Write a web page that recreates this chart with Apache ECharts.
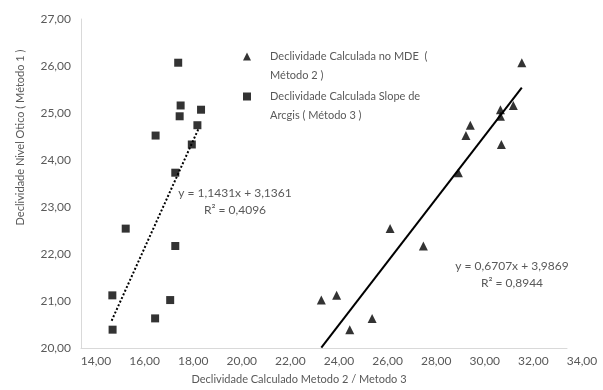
<!DOCTYPE html>
<html>
<head>
<meta charset="utf-8">
<script src="https://cdn.jsdelivr.net/npm/echarts@6/dist/echarts.min.js"></script>
<style>
  html, body { margin: 0; padding: 0; background: #fff; }
  #chart { width: 603px; height: 390px; }
</style>
</head>
<body>
<div id="chart"></div>
<script>
// Declividade Nivel Otico (Método 1) - shared y values
const metodo1 = [26.07, 25.16, 25.07, 24.93, 24.74, 24.52, 24.33, 23.73, 22.54, 22.17, 21.12, 21.02, 20.63, 20.39];
// Método 2 (MDE) x values
const metodo2 = [32.14, 31.79, 31.26, 31.26, 30.02, 29.84, 31.30, 29.53, 26.72, 28.09, 24.52, 23.89, 25.98, 25.06];
// Método 3 (Slope Arcgis) x values
const metodo3 = [18.00, 18.10, 18.94, 18.06, 18.79, 17.07, 18.56, 17.88, 15.84, 17.88, 15.29, 17.67, 17.05, 15.30];

// linhas de tendência (pontos extremos)
const trend2 = [[23.89, 20.01], [32.14, 25.54]];
const trend3 = [[15.26, 20.58], [18.84, 24.67]];

const name2 = 'Declividade Calculada no MDE  ( Método 2 )';
const name3 = 'Declividade Calculada Slope de Arcgis ( Método 3 )';
const legend2 = ['Declividade Calculada no MDE  (', 'Método 2 )'];
const legend3 = ['Declividade Calculada Slope de', 'Arcgis ( Método 3 )'];

const eq2 = ['y = 0,6707x + 3,9869', 'R² = 0,8944'];
const eq3 = ['y = 1,1431x + 3,1361', 'R² = 0,4096'];

const FONT = 'Lato';
const GRAY = '#595959';
const AXIS = '#d9d9d9';

const fmt = (v) => v.toFixed(2).replace('.', ',');
// linha vazia no topo para alinhar o ícone com a 1a linha do texto
const legendLabel = (lines) => '\n' + lines.map((l) => '     ' + l).join('\n');

const chart = echarts.init(document.getElementById('chart'));

const legendText = {
  color: GRAY,
  fontFamily: FONT,
  fontSize: 11,
  lineHeight: 19,
};

chart.setOption({
  animation: false,
  textStyle: { fontFamily: FONT },
  grid: { left: 81, right: 36, top: 19, bottom: 41 },
  legend: [
    {
      data: [{ name: name2, icon: 'triangle' }],
      left: 238,
      top: 23,
      itemWidth: 8,
      itemHeight: 8,
      textStyle: legendText,
      formatter: () => legendLabel(legend2),
    },
    {
      data: [{ name: name3, icon: 'rect' }],
      left: 238,
      top: 63,
      itemWidth: 8,
      itemHeight: 8,
      textStyle: legendText,
      formatter: () => legendLabel(legend3),
    },
  ],
  xAxis: {
    type: 'value',
    min: 14,
    max: 34,
    interval: 2,
    name: 'Declividade Calculado Metodo 2 / Metodo 3',
    nameLocation: 'middle',
    nameGap: 26,
    nameTextStyle: { color: GRAY, fontSize: 11, fontFamily: FONT, padding: [0, 50, 0, 0] },
    axisLine: { show: true, onZero: false, lineStyle: { color: AXIS } },
    axisTick: { show: false },
    splitLine: { show: false },
    axisLabel: {
      color: GRAY,
      fontSize: 12,
      fontFamily: FONT,
      margin: 7,
      padding: [0, 0, 0, 30],
      formatter: fmt,
    },
  },
  yAxis: {
    type: 'value',
    min: 20,
    max: 27,
    interval: 1,
    name: 'Declividade Nivel Otico ( Método 1 )',
    nameLocation: 'middle',
    nameGap: 55,
    nameTextStyle: { color: GRAY, fontSize: 11, fontFamily: FONT, padding: [0, 0, 0, 92] },
    axisLine: { show: true, onZero: false, lineStyle: { color: AXIS } },
    axisTick: { show: false },
    splitLine: { show: false },
    axisLabel: { color: GRAY, fontSize: 12, fontFamily: FONT, margin: 10, formatter: fmt },
  },
  series: [
    {
      name: name2,
      type: 'scatter',
      symbol: 'triangle',
      symbolSize: 9,
      itemStyle: { color: '#000' },
      data: metodo2.map((x, i) => [x, metodo1[i]]),
      z: 3,
    },
    {
      name: name3,
      type: 'scatter',
      symbol: 'rect',
      symbolSize: 8,
      itemStyle: { color: '#000' },
      data: metodo3.map((x, i) => [x, metodo1[i]]),
      z: 3,
    },
    {
      name: 'trend2',
      type: 'line',
      data: trend2,
      symbol: 'none',
      lineStyle: { color: '#000', width: 2 },
      silent: true,
      z: 2,
    },
    {
      name: 'trend3',
      type: 'line',
      data: trend3,
      symbol: 'none',
      lineStyle: { color: '#000', width: 2, type: [2, 2] },
      silent: true,
      z: 2,
    },
  ],
  graphic: [
    {
      type: 'text',
      x: 235,
      y: 202,
      style: {
        text: eq3.join('\n'),
        fill: GRAY,
        font: '12px ' + FONT,
        align: 'center',
        verticalAlign: 'middle',
        lineHeight: 17,
      },
    },
    {
      type: 'text',
      x: 512,
      y: 275,
      style: {
        text: eq2.join('\n'),
        fill: GRAY,
        font: '12px ' + FONT,
        align: 'center',
        verticalAlign: 'middle',
        lineHeight: 17,
      },
    },
  ],
});
</script>
</body>
</html>
